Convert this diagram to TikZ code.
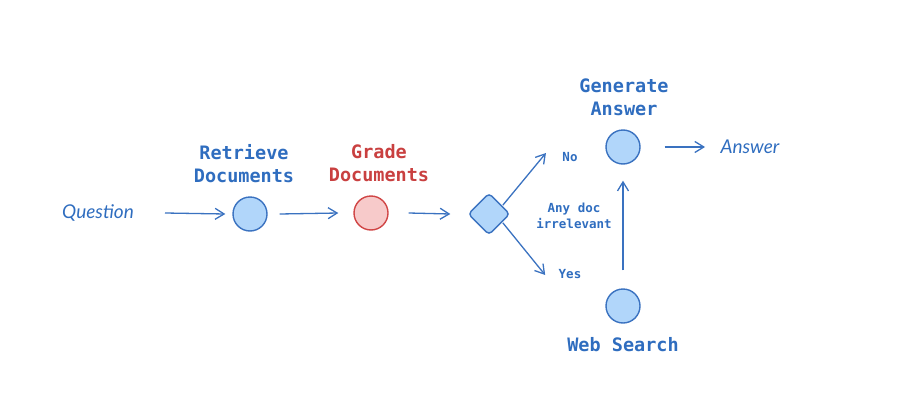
\documentclass[tikz,border=0pt]{standalone}
\usepackage{fontspec}
\setmainfont{DejaVu Sans Mono}
\newfontfamily\handfont{Lato Italic}
\usetikzlibrary{arrows.meta,shapes.geometric}
\definecolor{bstroke}{HTML}{3A72C0}
\definecolor{bfill}{HTML}{B1D6FA}
\definecolor{btext}{HTML}{2F6DBF}
\definecolor{rstroke}{HTML}{D04545}
\definecolor{rfill}{HTML}{F7CACA}
\definecolor{rtext}{HTML}{C94040}
\tikzset{
  bnode/.style={circle,draw=bstroke,fill=bfill,line width=1.4pt,minimum size=34pt,inner sep=0pt},
  rnode/.style={circle,draw=rstroke,fill=rfill,line width=1.4pt,minimum size=34pt,inner sep=0pt},
  dnode/.style={diamond,draw=bstroke,fill=bfill,line width=1.4pt,minimum size=42pt,inner sep=0pt,rounded corners=4pt},
  lbl/.style={text=btext,font=\bfseries\fontsize{18.5}{23}\selectfont,align=center},
  rlbl/.style={text=rtext,font=\bfseries\fontsize{18.5}{23}\selectfont,align=center},
  small/.style={text=btext,font=\bfseries\fontsize{12.5}{16}\selectfont,align=center},
  hand/.style={text=btext,font=\handfont\fontsize{19}{22}\selectfont},
  conn/.style={draw=bstroke,line width=1.3pt,-{Straight Barb[length=9pt,width=11pt,line width=1.3pt]}},
}
\begin{document}
\begin{tikzpicture}[x=1pt,y=-1pt]
\useasboundingbox (0,0) rectangle (899,415);
\node[hand] (q) at (98,213) {Question};
\coordinate (qe) at (165,213);
\node[bnode] (ret) at (250,214) {};
\node[lbl] (retl) at (244,164) {Retrieve\\Documents};
\node[rnode] (gr) at (371,213) {};
\node[rlbl] (grl) at (379,163) {Grade\\Documents};
\node[dnode] (dec) at (489,214) {};
\node[small] (no) at (570,157) {No};
\node[small] (yes) at (570,274) {Yes};
\node[small] (any) at (574,216) {Any doc\\irrelevant};
\node[bnode] (gen) at (623,147) {};
\node[lbl] (genl) at (624,97) {Generate\\Answer};
\node[hand] (ans) at (750,147) {Answer};
\node[bnode] (web) at (623,306) {};
\node[lbl] (webl) at (623,345) {Web Search};

\draw[conn] (qe) -- ([xshift=-7pt]ret.west);
\draw[conn] ([xshift=12pt]ret.east) -- ([xshift=-15pt]gr.west);
\draw[conn] ([xshift=20pt]gr.east) -- ([xshift=-17pt]dec.west);
\draw[conn] ([shift={(3pt,-2pt)}]dec.north east) -- ([shift={(-13pt,4pt)}]no.west);
\draw[conn] ([shift={(3pt,2pt)}]dec.south east) -- ([shift={(-10pt,-1pt)}]yes.west);
\draw[conn] ([yshift=18pt]web.north) -- ([yshift=-16pt]gen.south);
\draw[conn] ([xshift=24pt]gen.east) -- ([xshift=-12pt]ans.west);
\end{tikzpicture}
\end{document}
